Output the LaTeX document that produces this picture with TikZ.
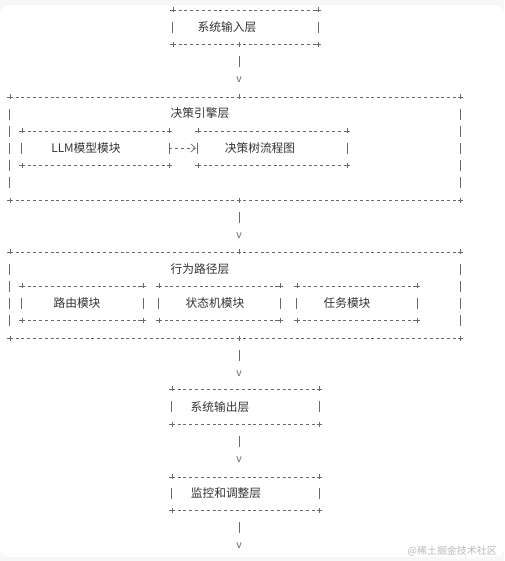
\documentclass[tikz,border=0pt]{standalone}
\usepackage{fontspec}
\setmainfont{Noto Sans CJK SC}
\usetikzlibrary{arrows.meta, positioning, calc, fit}
\definecolor{ink}{RGB}{51, 51, 51}
\definecolor{rule}{RGB}{105, 105, 105}

\tikzset{
    plus/.pic={\draw[rule, line width=0.4pt] (-2.3,0) -- (2.3,0) (0,-2.3) -- (0,2.3);}
}
% dashed ascii-like frame round a fitted node: name, number of text rows
\newcommand{\asciiframe}[2]{%
    \draw[dashrule] (#1.north west) -- (#1.north east);
    \draw[dashrule] (#1.south west) -- (#1.south east);
    \foreach \c in {north west, north east, south west, south east}
        \pic at (#1.\c) {plus};
    \foreach \k in {1,...,#2} {
        \pgfmathsetmacro{\f}{\k/(#2+1)}
        \draw[siderule] ($(#1.north west)!\f!(#1.south west)$) ++(0,-5.5) -- ++(0,11);
        \draw[siderule] ($(#1.north east)!\f!(#1.south east)$) ++(0,-5.5) -- ++(0,11);
    }
}

\begin{document}
\begin{tikzpicture}[
    x=0.03cm, y=-0.03cm,
    frame/.style={inner sep=0pt, draw=none},
    lbl/.style={text=ink, font=\fontsize{10}{12}\selectfont, inner sep=0pt},
    dashrule/.style={draw=rule, line width=0.45pt, dash pattern=on 0.09cm off 0.085cm},
    siderule/.style={draw=rule, line width=0.5pt},
    link/.style={draw=rule, line width=0.5pt},
    vhead/.style={text=rule, font=\fontsize{9}{10}\selectfont, inner sep=0pt},
]
    % Page
    \useasboundingbox (0,0) rectangle (504,561);
    \fill[gray!6] (0,0) rectangle (504,561);
    \fill[white, rounded corners=8] (0,5) rectangle (504,557);
    \coordinate (spine) at (239,0);

    % Input Layer
    \node[frame, fit={(173,10) (318,44)}] (input) {};
    \node[lbl] (inputtxt) at (227,27) {系统输入层};
    \asciiframe{input}{1}
    \pic at (input.south -| spine) {plus};
    \draw[link] (input.south -| spine) ++(0,12) -- ++(0,11) ++(0,12) node[vhead] (v1) {v};

    % Decision Engine
    \node[frame, fit={(10,97) (460,200)}] (engine) {};
    \node[lbl] (enginetxt) at (200,113) {决策引擎层};
    \asciiframe{engine}{5}
    \pic at (engine.north -| spine) {plus};
    \pic at (engine.south -| spine) {plus};
    \node[frame, fit={(22,131) (169,165)}] (llm) {};
    \node[lbl] (llmtxt) at (86,148) {LLM模型模块};
    \asciiframe{llm}{1}
    \node[frame, fit={(198,131) (347,165)}] (tree) {};
    \node[lbl] (treetxt) at (260,148) {决策树流程图};
    \asciiframe{tree}{1}
    \draw[dashrule, shorten >=1.5pt, -{Straight Barb[length=4pt, width=7pt, line width=0.6pt]}] (llm) -- (tree);
    \draw[link] (engine.south -| spine) ++(0,12) -- ++(0,11) ++(0,12) node[vhead] (v2) {v};

    % Behaviour Path
    \node[frame, fit={(10,252) (460,338)}] (path) {};
    \node[lbl] (pathtxt) at (200,269) {行为路径层};
    \asciiframe{path}{4}
    \pic at (path.north -| spine) {plus};
    \pic at (path.south -| spine) {plus};
    \node[frame, fit={(22,286) (143,320)}] (route) {};
    \node[lbl] (routetxt) at (77,303) {路由模块};
    \asciiframe{route}{1}
    \node[frame, fit={(159,286) (280,320)}] (state) {};
    \node[lbl] (statetxt) at (215,303) {状态机模块};
    \asciiframe{state}{1}
    \node[frame, fit={(297,286) (417,320)}] (task) {};
    \node[lbl] (tasktxt) at (347,303) {任务模块};
    \asciiframe{task}{1}
    \draw[link] (path.south -| spine) ++(0,12) -- ++(0,11) ++(0,12) node[vhead] (v3) {v};

    % Output Layer
    \node[frame, fit={(172,389) (319,424)}] (output) {};
    \node[lbl] (outputtxt) at (220,407) {系统输出层};
    \asciiframe{output}{1}
    \draw[link] (output.south -| spine) ++(0,12) -- ++(0,11) ++(0,12) node[vhead] (v4) {v};

    % Monitoring Layer
    \node[frame, fit={(172,477) (319,510)}] (monitor) {};
    \node[lbl] (monitortxt) at (226,493) {监控和调整层};
    \asciiframe{monitor}{1}
    \draw[link] (monitor.south -| spine) ++(0,12) -- ++(0,11) ++(0,12) node[vhead] (v5) {v};

    % Watermark
    \node[text=gray!55, font=\fontsize{8.5}{10}\selectfont, anchor=east, inner sep=0pt] (mark) at (497,551) {@稀土掘金技术社区};
\end{tikzpicture}
\end{document}
